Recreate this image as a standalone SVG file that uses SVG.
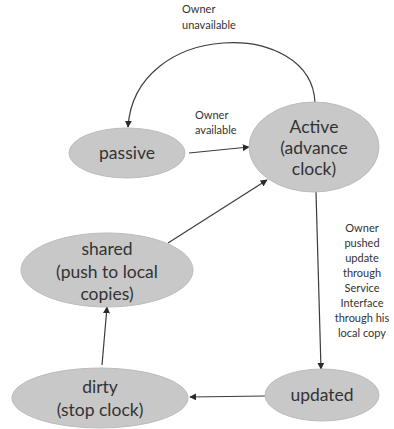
<svg xmlns="http://www.w3.org/2000/svg" width="394" height="429" viewBox="0 0 394 429">
  <style>
    .node ellipse { fill: #c8c8c8; stroke: #bcbcbc; stroke-width: 1; }
    .node text { font-family: Lato, "Open Sans", sans-serif; font-size: 17.5px; fill: #333333; text-anchor: middle; }
    .edge { fill: none; stroke: #3c3c3c; stroke-width: 1.2; marker-end: url(#arrow); }
    .lbl { font-family: Lato, "Open Sans", sans-serif; font-size: 11px; fill: #333333; }
  </style>
  <defs>
    <marker id="arrow" viewBox="0 0 10 10" refX="9" refY="5" markerWidth="7" markerHeight="7" markerUnits="userSpaceOnUse" orient="auto">
      <path d="M0,0 L10,5 L0,10 z" fill="#2a2a2a"/>
    </marker>
  </defs>
  <rect width="394" height="429" fill="#ffffff"/>

  <g id="connectors">
    <path class="edge" d="M315,103 C312,18 135,20 128,127"/>
    <path class="edge" d="M189,153 L249,147"/>
    <path class="edge" d="M168,243 L267,180"/>
    <path class="edge" d="M316,192 L321,369"/>
    <path class="edge" d="M265,396 L190,397"/>
    <path class="edge" d="M102,365 L107,307"/>
    <text class="lbl" x="182" y="13">Owner</text>
    <text class="lbl" x="182" y="29">unavailable</text>
    <text class="lbl" x="195" y="119">Owner</text>
    <text class="lbl" x="195" y="134">available</text>
    <g class="lbl" text-anchor="middle">
      <text x="362" y="232">Owner</text>
      <text x="362" y="247">pushed</text>
      <text x="362" y="262">update</text>
      <text x="362" y="277">through</text>
      <text x="362" y="292">Service</text>
      <text x="362" y="307">Interface</text>
      <text x="362" y="322">through his</text>
      <text x="362" y="337">local copy</text>
    </g>
  </g>

  <g id="passive" class="node">
    <ellipse cx="127" cy="153" rx="58" ry="25"/>
    <text x="127" y="159">passive</text>
  </g>
  <g id="active" class="node">
    <ellipse cx="314" cy="147" rx="65" ry="45"/>
    <text x="314" y="133">Active</text>
    <text x="314" y="154">(advance</text>
    <text x="314" y="175">clock)</text>
  </g>
  <g id="shared" class="node">
    <ellipse cx="107" cy="270" rx="86" ry="37"/>
    <text x="107" y="255">shared</text>
    <text x="107" y="278">(push to local</text>
    <text x="107" y="300">copies)</text>
  </g>
  <g id="dirty" class="node">
    <ellipse cx="100" cy="398" rx="88" ry="30"/>
    <text x="100" y="393">dirty</text>
    <text x="100" y="416">(stop clock)</text>
  </g>
  <g id="updated" class="node">
    <ellipse cx="322" cy="395" rx="57" ry="26"/>
    <text x="322" y="401">updated</text>
  </g>
</svg>
